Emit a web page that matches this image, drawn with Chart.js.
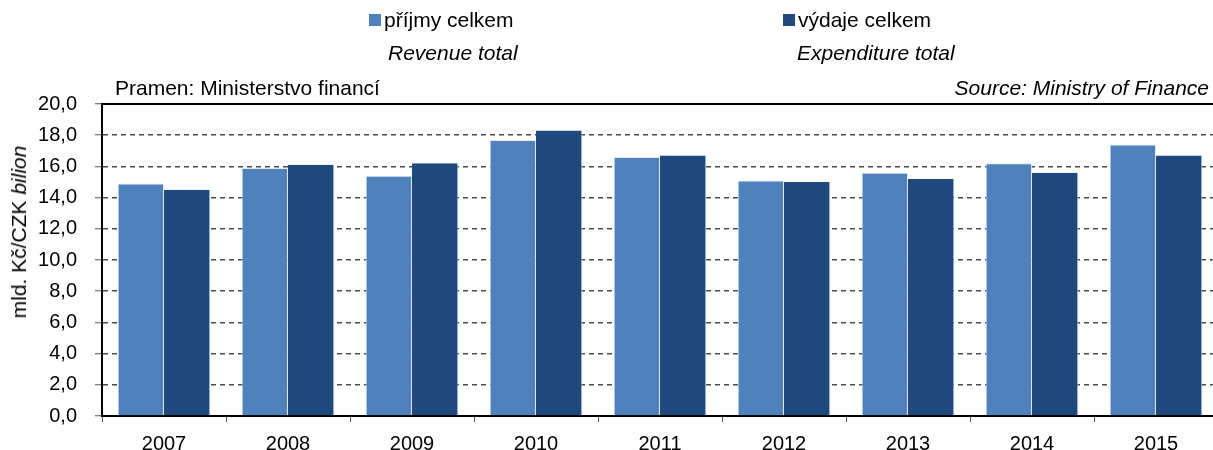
<!DOCTYPE html>
<html>
<head>
<meta charset="utf-8">
<script src="https://cdn.jsdelivr.net/npm/chart.js@4.4.1/dist/chart.umd.min.js"></script>
<style>
  html, body { margin: 0; padding: 0; background: #fff; overflow: hidden; width: 1213px; height: 450px; }
  #wrap { position: relative; width: 1222px; height: 450px; }
  #c { position: absolute; left: 0; top: 0; }
  .t { position: absolute; font-family: "Liberation Sans", Arial, sans-serif; font-size: 21px; color: #000; line-height: 24px; white-space: nowrap; }
  .i { font-style: italic; }
  .sq { position: absolute; width: 12px; height: 12px; }
  #ytitle { position: absolute; left: 19px; top: 232px; transform: translate(-50%, -50%) rotate(-90deg); }
</style>
</head>
<body>
<div id="wrap">
  <canvas id="c" width="1222" height="450"></canvas>
  <div class="sq" id="sq0" style="left:369px; top:14px;"></div>
  <div class="t" id="l0" style="left:384px; top:8px;"></div>
  <div class="t i" id="s0" style="left:388px; top:41px;"></div>
  <div class="sq" id="sq1" style="left:783px; top:14px;"></div>
  <div class="t" id="l1" style="left:798px; top:8px;"></div>
  <div class="t i" id="s1" style="left:797px; top:41px;"></div>
  <div class="t" style="left:115px; top:76px;">Pramen: Ministerstvo financí</div>
  <div class="t i" style="right:13px; top:76px;">Source: Ministry of Finance</div>
  <div class="t" id="ytitle">mld. Kč/CZK <span class="i">bilion</span></div>
</div>
<script>
const years = ['2007', '2008', '2009', '2010', '2011', '2012', '2013', '2014', '2015'];
const revenue = [14.9, 15.9, 15.4, 17.7, 16.6, 15.1, 15.6, 16.2, 17.4];
const expenditure = [14.5, 16.1, 16.2, 18.3, 16.7, 15.0, 15.2, 15.6, 16.7];
const seriesNames = ['příjmy celkem', 'výdaje celkem'];
const seriesSubtitles = ['Revenue total', 'Expenditure total'];
const seriesColors = ['#4F81BD', '#1F497D'];
const yTicks = [0, 2, 4, 6, 8, 10, 12, 14, 16, 18, 20];

// legend (HTML text)
for (let i = 0; i < 2; i++) {
  document.getElementById('sq' + i).style.background = seriesColors[i];
  document.getElementById('l' + i).textContent = seriesNames[i];
  document.getElementById('s' + i).textContent = seriesSubtitles[i];
}

const topLine = {
  id: 'topLine',
  afterDraw(chart) {
    const { ctx, chartArea } = chart;
    ctx.save();
    ctx.strokeStyle = '#000';
    ctx.lineWidth = 2;
    ctx.beginPath();
    ctx.moveTo(chartArea.left - 1, chartArea.top);
    ctx.lineTo(chartArea.right, chartArea.top);
    ctx.stroke();
    ctx.restore();
  }
};

const font = { family: '"Liberation Sans", Arial, sans-serif', size: 20 };

new Chart(document.getElementById('c'), {
  type: 'bar',
  data: {
    labels: years,
    datasets: [
      { label: seriesNames[0], data: revenue, backgroundColor: seriesColors[0], borderColor: 'rgba(220,230,242,0.9)', borderWidth: { top: 1, left: 1, right: 1, bottom: 0 }, borderSkipped: 'bottom' },
      { label: seriesNames[1], data: expenditure, backgroundColor: seriesColors[1], borderColor: 'rgba(220,230,242,0.9)', borderWidth: { top: 0, left: 0, right: 1, bottom: 0 }, borderSkipped: 'bottom' }
    ]
  },
  options: {
    responsive: false,
    animation: false,
    devicePixelRatio: 1,
    layout: { padding: { top: 104, left: 0, right: 4, bottom: 0 } },
    plugins: { legend: { display: false }, tooltip: { enabled: false }, title: { display: false } },
    datasets: { bar: { categoryPercentage: 0.748, barPercentage: 1.0 } },
    scales: {
      x: {
        offset: true,
        grid: { offset: true, drawOnChartArea: false, drawTicks: true, tickLength: 6, color: '#555', tickColor: '#555', lineWidth: 1 },
        border: { display: true, color: '#000', width: 2 },
        ticks: { font: font, color: '#000', padding: 10, maxRotation: 0 },
        afterFit(scale) { scale.height = 34; }
      },
      y: {
        min: 0,
        max: 20,
        afterBuildTicks(scale) { scale.ticks = yTicks.map(v => ({ value: v })); },
        grid: {
          color: c => (c.tick && (c.tick.value === 0 || c.tick.value === 20)) ? 'rgba(0,0,0,0)' : '#4a4a4a',
          lineWidth: 1.5,
          tickLength: 7,
          tickColor: '#555',
          tickWidth: 1,
          tickBorderDash: [1, 0]
        },
        border: { display: true, color: '#000', width: 2, dash: [5, 4] },
        ticks: {
          font: font, color: '#000', padding: 18,
          callback: v => v.toFixed(1).replace('.', ',')
        },
        afterFit(scale) { scale.width = 102; }
      }
    }
  },
  plugins: [topLine]
});
</script>
</body>
</html>
